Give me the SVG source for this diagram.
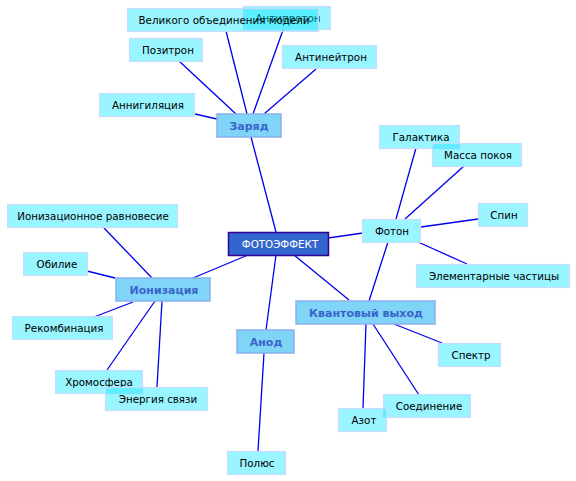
<svg xmlns="http://www.w3.org/2000/svg" width="576" height="481" viewBox="0 0 576 481">
<style>
text{font-family:"DejaVu Sans","Liberation Sans",sans-serif;font-size:10.3px;text-anchor:middle}
.leaf rect{fill:rgb(0,230,255);fill-opacity:.4;stroke:#c6dcff;stroke-width:1.2}
.leaf text{fill:#000}
.main rect{fill:#80d4f8;stroke:#8ab0ee;stroke-width:1.5}
.main text{fill:#3a64c8;font-weight:bold;font-size:11px}
.root rect{fill:#3366cc;stroke:#330099;stroke-width:1.5}
.root text{fill:#fff}
#edges line{stroke:#0000ee;stroke-width:1.3}
</style>
<g id="edges">
<line x1="276" y1="232" x2="251" y2="137"/>
<line x1="328" y1="238" x2="363" y2="233"/>
<line x1="248" y1="255" x2="193" y2="278"/>
<line x1="276" y1="255" x2="266" y2="330"/>
<line x1="294" y1="255" x2="349" y2="300"/>
<line x1="226" y1="31" x2="247" y2="114"/>
<line x1="283" y1="30" x2="253" y2="114"/>
<line x1="179" y1="61" x2="236" y2="114"/>
<line x1="316" y1="69" x2="264" y2="114"/>
<line x1="195" y1="114" x2="217" y2="119"/>
<line x1="416" y1="148" x2="396" y2="219"/>
<line x1="464" y1="166" x2="405" y2="219"/>
<line x1="478" y1="219" x2="421" y2="227"/>
<line x1="467" y1="264" x2="418" y2="242"/>
<line x1="388" y1="242" x2="369" y2="301"/>
<line x1="104" y1="228" x2="152" y2="278"/>
<line x1="87" y1="271" x2="115" y2="278"/>
<line x1="94" y1="317" x2="133" y2="302"/>
<line x1="155" y1="301" x2="107" y2="370"/>
<line x1="162" y1="301" x2="157" y2="387"/>
<line x1="264" y1="353" x2="258" y2="451"/>
<line x1="394" y1="324" x2="442" y2="343"/>
<line x1="373" y1="324" x2="419" y2="395"/>
<line x1="366" y1="324" x2="363" y2="408"/>
</g>
<g id="n-antiproton" class="leaf"><rect x="243.5" y="6.5" width="87" height="23"/><text x="288" y="22">Антипротон</text></g>
<g id="n-velikogo" class="leaf"><rect x="127.5" y="8.5" width="191" height="23"/><text x="224" y="23.5">Великого объединения модели</text></g>
<g id="n-pozitron" class="leaf"><rect x="129.5" y="38.5" width="73" height="23"/><text x="168" y="54">Позитрон</text></g>
<g id="n-antineitron" class="leaf"><rect x="282.5" y="45.5" width="94" height="23"/><text x="331" y="61">Антинейтрон</text></g>
<g id="n-annigilyaciya" class="leaf"><rect x="99.5" y="93.5" width="95" height="23"/><text x="148" y="109">Аннигиляция</text></g>
<g id="n-zaryad" class="main"><rect x="217" y="114" width="64" height="23"/><text x="249" y="130">Заряд</text></g>
<g id="n-galaktika" class="leaf"><rect x="379.5" y="125.5" width="80" height="23"/><text x="421" y="141">Галактика</text></g>
<g id="n-massa" class="leaf"><rect x="432.5" y="143.5" width="89" height="23"/><text x="478" y="159">Масса покоя</text></g>
<g id="n-spin" class="leaf"><rect x="478.5" y="203.5" width="49" height="23"/><text x="504" y="219">Спин</text></g>
<g id="n-foton" class="leaf"><rect x="362.5" y="219.5" width="58" height="23"/><text x="392" y="235">Фотон</text></g>
<g id="n-elementarnye" class="leaf"><rect x="416.5" y="264.5" width="153" height="23"/><text x="494" y="280">Элементарные частицы</text></g>
<g id="n-fotoeffekt" class="root"><rect x="228.5" y="232.5" width="100" height="23"/><text x="280" y="248">ФОТОЭФФЕКТ</text></g>
<g id="n-ionizacionnoe" class="leaf"><rect x="7.5" y="204.5" width="170" height="23"/><text x="93" y="220">Ионизационное равновесие</text></g>
<g id="n-obilie" class="leaf"><rect x="23.5" y="252.5" width="64" height="23"/><text x="57" y="268">Обилие</text></g>
<g id="n-ionizaciya" class="main"><rect x="116" y="278" width="94" height="23"/><text x="164" y="294">Ионизация</text></g>
<g id="n-rekombinaciya" class="leaf"><rect x="12.5" y="316.5" width="100" height="23"/><text x="64" y="332">Рекомбинация</text></g>
<g id="n-kvantovyi" class="main"><rect x="296" y="301" width="139" height="23"/><text x="366" y="317">Квантовый выход</text></g>
<g id="n-anod" class="main"><rect x="237" y="330" width="57" height="23"/><text x="266" y="346">Анод</text></g>
<g id="n-spektr" class="leaf"><rect x="438.5" y="343.5" width="62" height="23"/><text x="471" y="359">Спектр</text></g>
<g id="n-hromosfera" class="leaf"><rect x="55.5" y="370.5" width="87" height="23"/><text x="99" y="386">Хромосфера</text></g>
<g id="n-energiya" class="leaf"><rect x="105.5" y="387.5" width="102" height="23"/><text x="158" y="403">Энергия связи</text></g>
<g id="n-soedinenie" class="leaf"><rect x="383.5" y="394.5" width="87" height="23"/><text x="429" y="410">Соединение</text></g>
<g id="n-azot" class="leaf"><rect x="338.5" y="408.5" width="48" height="23"/><text x="364" y="424">Азот</text></g>
<g id="n-polyus" class="leaf"><rect x="227.5" y="451.5" width="58" height="23"/><text x="257" y="467">Полюс</text></g>
</svg>
